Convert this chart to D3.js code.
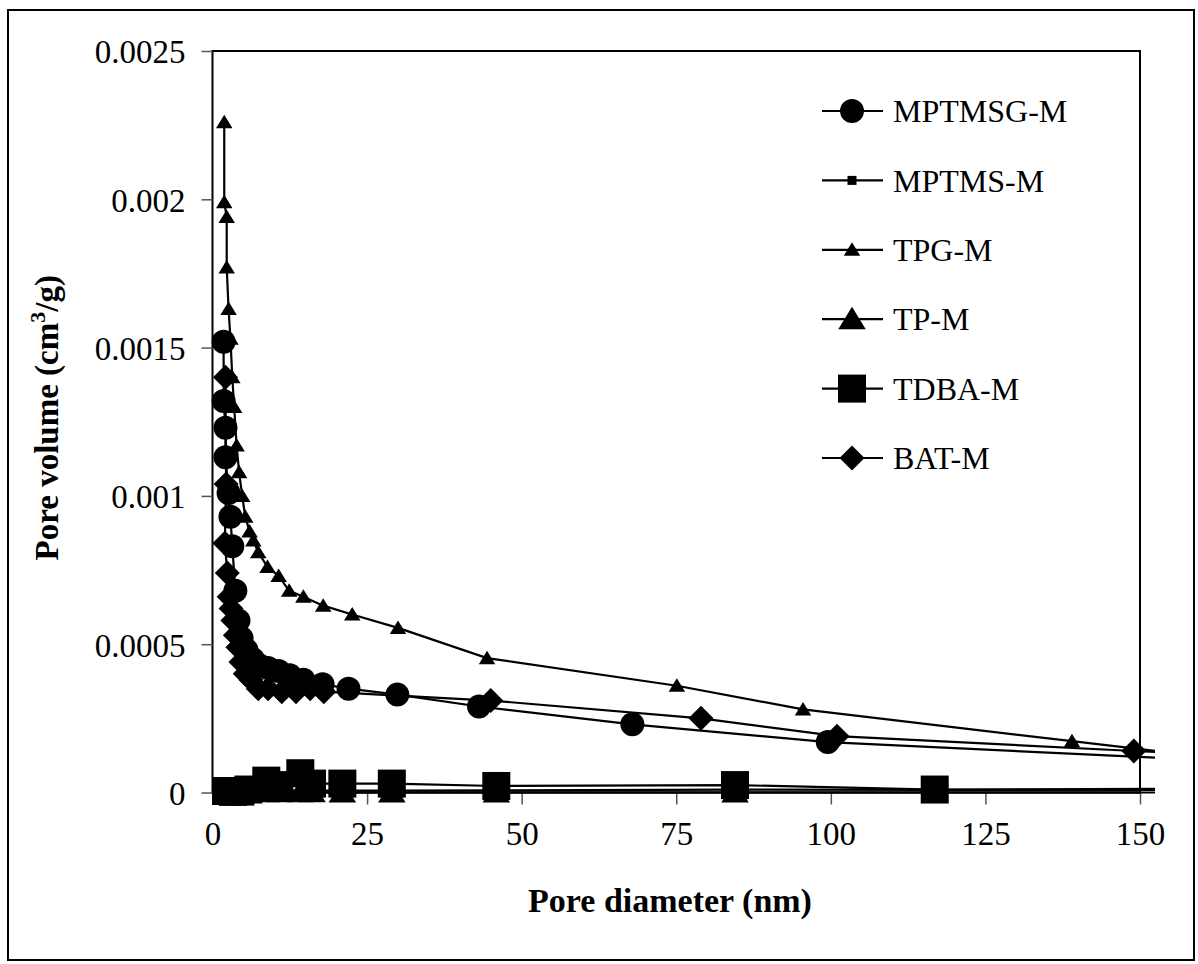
<!DOCTYPE html>
<html><head><meta charset="utf-8">
<script src="https://cdn.jsdelivr.net/npm/d3@7"></script>
<style>
html,body{margin:0;padding:0;background:#fff;}
svg text{font-family:"Liberation Serif","Times New Roman",serif;fill:#000;}
</style></head>
<body>
<svg id="chart" width="1198" height="964"></svg>
<script>
// ---- data ----
const mptmsgX = [1.8, 1.8, 2.1, 2.1, 2.6, 2.9, 3.2, 3.7, 4.2, 4.7, 5.5, 6.5, 7.5, 9.0, 10.7, 12.5, 14.7, 17.8, 22.0, 29.9, 43.1, 67.9, 99.5, 190];
const mptmsgY = [0.00152, 0.00132, 0.00123, 0.00113, 0.00101, 0.00093, 0.00083, 0.00068, 0.00058, 0.00052, 0.00048, 0.00045, 0.00043, 0.00042, 0.00041, 0.000395, 0.00038, 0.000365, 0.00035, 0.00033, 0.00029, 0.00023, 0.00017, 0.00008];

const mptmsX = [2.2, 3.3, 4.5, 5.8, 8.7, 10.8, 14.2, 16.1, 21.0, 29.0, 45.9, 84.5, 116.8, 190];
const mptmsY = [0.00001, 0.000008, 0.000008, 0.000007, 0.000007, 0.000007, 0.000006, 0.000006, 0.000006, 0.000006, 0.000007, 0.00001, 0.000009, 0.000008];

const tpgX = [1.9, 1.9, 2.3, 2.3, 2.6, 2.9, 3.2, 3.5, 3.9, 4.3, 4.8, 5.3, 6.0, 6.6, 7.4, 8.9, 10.7, 12.4, 14.7, 17.9, 22.6, 30.0, 44.4, 75.1, 95.5, 139.0, 190];
const tpgY = [0.00226, 0.00199, 0.00194, 0.00177, 0.00163, 0.00153, 0.0014, 0.0013, 0.00117, 0.00108, 0.001, 0.00093, 0.00088, 0.00085, 0.00081, 0.00076, 0.00073, 0.00068, 0.00066, 0.00063, 0.0006, 0.000555, 0.000453, 0.00036, 0.00028, 0.000173, 0.00005];

const tpX = [2.2, 3.3, 4.5, 5.8, 8.7, 10.8, 14.2, 16.1, 21.0, 29.0, 45.9, 84.5, 116.8, 190];
const tpY = [0.000004, 0.000003, 0.000002, 0.000002, 0.000001, 0.000001, 0.000001, 0.000001, 0, 0, 0, 0, 0, 0];

const tdbaX = [2.2, 3.3, 4.5, 5.8, 8.7, 10.8, 14.2, 16.1, 21.0, 29.0, 45.9, 84.5, 116.8, 190];
const tdbaY = [0.000005, 0.000002, 0.000003, 0.00001, 0.00004, 0.000025, 0.000065, 0.00003, 0.00003, 0.00003, 0.000022, 0.000025, 0.00001, 0.000015];

const batX = [2.1, 2.2, 2.0, 2.4, 2.7, 3.0, 3.3, 3.7, 4.1, 4.6, 5.3, 6.2, 7.4, 9.0, 11.2, 13.5, 15.8, 18.0, 45.0, 79.0, 101.0, 149.0, 190];
const batY = [0.0014, 0.00104, 0.00084, 0.00074, 0.00066, 0.00062, 0.00058, 0.00053, 0.00049, 0.00044, 0.0004, 0.00038, 0.00035, 0.00035, 0.00034, 0.00034, 0.00035, 0.00034, 0.00031, 0.00025, 0.00019, 0.00014, 0.0001];

const seriesNames = ["MPTMSG-M", "MPTMS-M", "TPG-M", "TP-M", "TDBA-M", "BAT-M"];
const xTicks = [0, 25, 50, 75, 100, 125, 150];
const yTicks = [0, 0.0005, 0.001, 0.0015, 0.002, 0.0025];
const yTickLabels = ["0", "0.0005", "0.001", "0.0015", "0.002", "0.0025"];
const xTitle = "Pore diameter (nm)";

// ---- layout ----
const W = 1198, H = 964;
const L = 212.5, R = 1140, T = 51, B = 792.5;
const svg = d3.select("#chart");

const x = d3.scaleLinear().domain([0, 150]).range([L, R]);
const y = d3.scaleLinear().domain([0, 0.0025]).range([B, T]);

// outer frame
svg.append("rect").attr("x", 8).attr("y", 10).attr("width", 1186).attr("height", 950)
  .attr("fill", "#fff").attr("stroke", "#000").attr("stroke-width", 2);

// plot frame
svg.append("rect").attr("x", L).attr("y", T).attr("width", R - L).attr("height", B - T)
  .attr("fill", "none").attr("stroke", "#000").attr("stroke-width", 2);

// axes
const xAxis = d3.axisBottom(x).tickValues(xTicks).tickSize(12).tickPadding(11).tickFormat(d3.format("d"));
const gx = svg.append("g").attr("transform", `translate(0,${B})`).call(xAxis);
gx.select(".domain").remove();
gx.selectAll(".tick line").attr("stroke", "#555").attr("stroke-width", 1.5);
gx.selectAll(".tick text").attr("font-size", 33).attr("font-family", "Liberation Serif").attr("dy", "0.9em");

const yAxis = d3.axisLeft(y).tickValues(yTicks).tickSize(11).tickPadding(16).tickFormat((d, i) => yTickLabels[i]);
const gy = svg.append("g").attr("transform", `translate(${L},0)`).call(yAxis);
gy.select(".domain").remove();
gy.selectAll(".tick line").attr("stroke", "#555").attr("stroke-width", 1.5);
gy.selectAll(".tick text").attr("font-size", 33).attr("font-family", "Liberation Serif").attr("dy", "0.36em");

svg.append("line").attr("x1", L).attr("x2", R).attr("y1", B).attr("y2", B).attr("stroke", "#000").attr("stroke-width", 2);

// clip for series lines (they run a little past the right frame)
svg.append("clipPath").attr("id", "clip").append("rect")
  .attr("x", 0).attr("y", 0).attr("width", 1155).attr("height", H);

// markers
const sym = {
  circle: (g, s) => g.append("circle").attr("r", s),
  square: (g, s) => g.append("rect").attr("x", -s).attr("y", -s).attr("width", 2 * s).attr("height", 2 * s),
  triangle: (g, s) => g.append("path").attr("d", `M0,${-s}L${s * 1.1},${s * 0.8}L${-s * 1.1},${s * 0.8}Z`),
  diamond: (g, s) => g.append("path").attr("d", `M0,${-s}L${s},0L0,${s}L${-s},0Z`)
};

const series = [
  { name: seriesNames[0], xs: mptmsgX, ys: mptmsgY, shape: "circle", size: 12 },
  { name: seriesNames[1], xs: mptmsX, ys: mptmsY, shape: "square", size: 4.5 },
  { name: seriesNames[2], xs: tpgX, ys: tpgY, shape: "triangle", size: 7.5 },
  { name: seriesNames[3], xs: tpX, ys: tpY, shape: "triangle", size: 12.5 },
  { name: seriesNames[4], xs: tdbaX, ys: tdbaY, shape: "square", size: 14 },
  { name: seriesNames[5], xs: batX, ys: batY, shape: "diamond", size: 12.5 }
];

const line = d3.line().x(d => x(d[0])).y(d => y(d[1]));
const plotG = svg.append("g").attr("clip-path", "url(#clip)");

series.forEach(s => {
  const pts = s.xs.map((v, i) => [v, s.ys[i]]);
  const g = plotG.append("g");
  g.append("path").attr("d", line(pts)).attr("fill", "none").attr("stroke", "#000").attr("stroke-width", 2.2);
  pts.forEach(p => {
    const mg = g.append("g").attr("transform", `translate(${x(p[0])},${y(p[1])})`);
    sym[s.shape](mg, s.size).attr("fill", "#000");
  });
});

// legend
const legY0 = 111, legDy = 69.4;
series.forEach((s, i) => {
  const cy = legY0 + i * legDy;
  const g = svg.append("g");
  g.append("line").attr("x1", 822).attr("x2", 883).attr("y1", cy).attr("y2", cy).attr("stroke", "#000").attr("stroke-width", 2.2);
  const mg = g.append("g").attr("transform", `translate(852,${cy})`);
  sym[s.shape](mg, s.size).attr("fill", "#000");
  g.append("text").attr("x", 893).attr("y", cy).attr("dy", "0.35em").attr("font-size", 32).text(s.name);
});

// axis titles
svg.append("text").attr("x", 670).attr("y", 912).attr("text-anchor", "middle")
  .attr("font-size", 34).attr("font-weight", "bold").text(xTitle);

const yt = svg.append("text").attr("transform", `translate(58,${(T + B) / 2 - 4}) rotate(-90)`)
  .attr("text-anchor", "middle").attr("font-size", 33).attr("font-weight", "bold");
yt.append("tspan").text("Pore volume (cm");
yt.append("tspan").attr("dy", -13).attr("font-size", 22).text("3");
yt.append("tspan").attr("dy", 13).text("/g)");
</script>
</body></html>
